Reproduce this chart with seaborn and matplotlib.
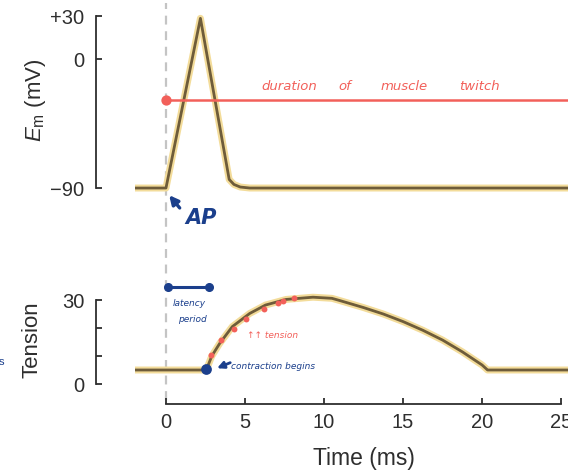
import matplotlib
matplotlib.use("Agg")
import matplotlib.pyplot as plt
import seaborn as sns
import pandas as pd

# ---- data ----
ap_time = [-2.0, 0.0, 2.18, 4.0, 4.3, 4.7, 5.3, 25.5]
ap_em = [-90, -90, 28.4, -84, -87.5, -89.3, -90, -90]

tension_time = [-2.0, 2.55, 2.9, 3.4, 4.2, 5.3, 6.3, 7.6, 9.3, 10.5, 11.0, 12.5,
                13.75, 15.0, 16.25, 17.5, 18.75, 20.0, 20.35, 25.5]
tension_val = [5, 5, 10, 14.5, 20.5, 25.2, 28.2, 30.2, 31.0, 30.6, 29.8, 27.3,
               25.0, 22.3, 19.2, 15.7, 11.5, 6.8, 5, 5]

em_ticks = [30, 0, -90]
em_ticklabels = ["+30", "0", "\u221290"]
tension_ticks = [0, 10, 20, 30]
tension_ticklabels = ["0", "", "", "30"]
time_ticks = [0, 5, 10, 15, 20, 25]

twitch_level = -28.6
twitch_words = ["duration", "of", "muscle", "twitch"]
twitch_word_t = [7.81, 11.29, 15.08, 19.83]

rise_dot_t = [2.86, 3.49, 4.33, 5.07, 6.23, 7.07, 7.43, 8.13]
rise_dot_v = [10.4, 15.7, 19.5, 23.1, 26.7, 28.8, 29.6, 30.6]

latency_t = [0.1, 2.75]
latency_v = [34.5, 34.5]
onset_t = [2.54]
onset_v = [5.25]

ap_df = pd.DataFrame({"t": ap_time, "v": ap_em})
ten_df = pd.DataFrame({"t": tension_time, "v": tension_val})

sns.set_style("ticks")
plt.rcParams["font.family"] = ["Liberation Sans", "DejaVu Sans"]
plt.rcParams["mathtext.fontset"] = "custom"
plt.rcParams["mathtext.it"] = "Liberation Sans:italic"
plt.rcParams["mathtext.rm"] = "Liberation Sans"

W, H = 568, 470
fig = plt.figure(figsize=(W / 100, H / 100), dpi=100)

ax1 = fig.add_axes([135 / W, 1 - 199.5 / H, 433 / W, 189.2 / H])
ax2 = fig.add_axes([135 / W, 1 - 403.6 / H, 433 / W, 114.8 / H])
for ax in (ax1, ax2):
    ax.set_facecolor("none")

XL = (-1.96, 25.44)
RED = "#f2605a"
BLUE = "#1b3f8c"
HALO = "#f3dc9a"
CORE = "#6e5c3a"
AXC = "#2e2e2e"

# ---- top: action potential ----
ax1.axvline(0, ymin=-0.473, ymax=1.04, color="#c4c4c4", lw=1.6,
            ls=(0, (4, 3)), clip_on=False, zorder=0)
sns.lineplot(data=ap_df, x="t", y="v", ax=ax1, color=HALO, lw=5.0,
             sort=False, estimator=None, solid_capstyle="butt")
sns.lineplot(data=ap_df, x="t", y="v", ax=ax1, color=CORE, lw=2.0,
             sort=False, estimator=None)
ax1.axhline(twitch_level, xmin=(0 - XL[0]) / (XL[1] - XL[0]), xmax=1,
            color=RED, lw=1.8, zorder=4)
ax1.scatter([0], [twitch_level], s=55, color=RED, zorder=5, linewidths=0)
for w, t in zip(twitch_words, twitch_word_t):
    ax1.text(t, -19.5, w, color=RED, fontsize=9.5, style="italic",
             ha="center", va="center", family="DejaVu Sans")
ax1.annotate("", xy=(0.09, -93.5), xytext=(0.98, -105.4),
             arrowprops=dict(arrowstyle="-|>", color=BLUE, lw=2.4,
                             mutation_scale=13),
             annotation_clip=False)
ax1.text(2.25, -111, "AP", color=BLUE, fontsize=15, fontweight="bold",
         style="italic", ha="center", va="center", clip_on=False,
         family="DejaVu Sans")

ax1.set_xlim(*XL)
ax1.set_ylim(-98, 34)
ax1.set_yticks(em_ticks)
ax1.set_yticklabels(em_ticklabels)
ax1.set_xticks([])
for s in ("top", "right", "bottom"):
    ax1.spines[s].set_visible(False)
ax1.spines["left"].set_position(("outward", 28))
ax1.spines["left"].set_bounds(-90, 30)
ax1.set_xlabel("")
ax1.set_ylabel(r"$E_{\mathrm{m}}$ (mV)", fontsize=16, color=AXC)
ax1.yaxis.set_label_coords(-0.201, 0.526)

# ---- bottom: tension ----
ax2.axvline(0, ymin=0.03, ymax=1.0, color="#c4c4c4", lw=1.6,
            ls=(0, (4, 3)), clip_on=False, zorder=0)
sns.lineplot(data=ten_df, x="t", y="v", ax=ax2, color=HALO, lw=5.0,
             sort=False, estimator=None)
sns.lineplot(data=ten_df, x="t", y="v", ax=ax2, color=CORE, lw=2.0,
             sort=False, estimator=None)
ax2.scatter(rise_dot_t, rise_dot_v, s=18, color=RED, zorder=5, linewidths=0)
ax2.plot(latency_t, latency_v, color=BLUE, lw=2.2, marker="o", ms=5.5,
         clip_on=False, zorder=5)
ax2.text(1.49, 28.6, "latency", color=BLUE, fontsize=6.5, style="italic",
         ha="center", va="center", family="DejaVu Sans")
ax2.text(1.68, 23.2, "period", color=BLUE, fontsize=6.5, style="italic",
         ha="center", va="center", family="DejaVu Sans")
ax2.text(6.74, 17.5, "\u2191\u2191 tension", color=RED, fontsize=6.5,
         style="italic", ha="center", va="center", family="DejaVu Sans")
ax2.scatter(onset_t, onset_v, s=60, color=BLUE, zorder=6, linewidths=0)
ax2.annotate("", xy=(3.07, 5.25), xytext=(4.23, 8.0),
             arrowprops=dict(arrowstyle="-|>", color=BLUE, lw=2.0,
                             mutation_scale=10))
ax2.text(6.8, 6.4, "contraction begins", color=BLUE, fontsize=6.5,
         style="italic", ha="center", va="center", family="DejaVu Sans")

ax2.set_xlim(*XL)
ax2.set_ylim(-7, 34)
ax2.set_yticks(tension_ticks)
ax2.set_yticklabels(tension_ticklabels)
ax2.set_xticks(time_ticks)
for s in ("top", "right"):
    ax2.spines[s].set_visible(False)
ax2.spines["left"].set_position(("outward", 28))
ax2.spines["left"].set_bounds(0, 30)
ax2.spines["bottom"].set_bounds(0, 25)
ax2.set_ylabel("Tension", fontsize=16, color=AXC)
ax2.yaxis.set_label_coords(-0.2125, 0.554)
ax2.set_xlabel("Time (ms)", fontsize=16.5, color=AXC)
ax2.xaxis.set_label_coords(0.529, -0.38)

for ax in (ax1, ax2):
    ax.tick_params(direction="in", length=4.5, width=1.3, colors=AXC,
                   labelsize=14.5, pad=8.5)
    for s in ax.spines.values():
        s.set_linewidth(1.3)
        s.set_color(AXC)
ax2.tick_params(axis="x", pad=7)

fig.text(-0.002, 1 - 362 / H, "s", color=BLUE, fontsize=8, va="center")

fig.savefig("out.png", dpi=100)
